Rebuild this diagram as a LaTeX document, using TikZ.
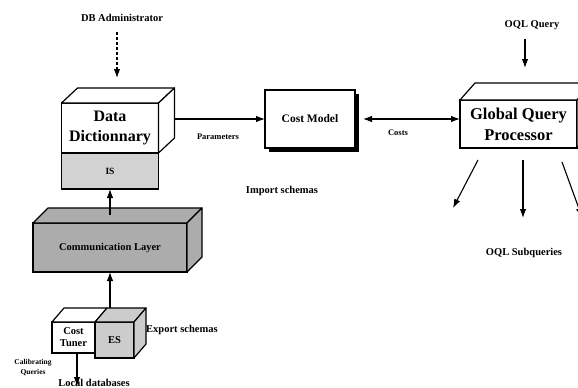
\documentclass[tikz,border=0pt]{standalone}
\usepackage{fontspec}
\setmainfont{Liberation Serif}
\usetikzlibrary{arrows.meta,shadows,positioning}

\begin{document}
\begin{tikzpicture}[
    % GLOBAL CFG
    x=1pt, y=-1pt,
    font=\bfseries,
    >={Latex[length=9pt,width=6.5pt]},
    % Styles
    face/.style={% front face of a block
        rectangle,
        draw,
        line width=1.2pt,
        fill=white,
        inner sep=1pt,
        outer sep=0pt,
        align=center,
        },
    side/.style={% top and right faces of a block
        draw,
        line width=1.2pt,
        line join=round,
        },
    conn/.style={% connectors
        ->,
        line width=1.1pt,
        },
    lbl/.style={% free labels
        font=\bfseries\fontsize{10.5}{12}\selectfont,
        inner sep=0pt,
        },
    small/.style={% tiny labels
        font=\bfseries\fontsize{8.5}{10}\selectfont,
        inner sep=0pt,
        align=center,
        },
    ]

    \useasboundingbox (0,0) rectangle (578,388);
    \clip (0,0) rectangle (578,388);

    % Data dictionary block and IS
    \node [face, minimum width=97pt, minimum height=50pt,
        font=\bfseries\fontsize{16}{20}\selectfont] (dd) at (110,128) {Data\\Dictionnary};
    \node [face, fill=gray!35, minimum width=97pt, minimum height=36pt, anchor=north,
        font=\bfseries\fontsize{9.5}{10}\selectfont] (is) at (dd.south) {IS};
    \draw [side, fill=white] (dd.north west) -- ++(16,-15) -- ++(97,0) -- (dd.north east) -- cycle;
    \draw [side, fill=white] (dd.north east) -- ++(16,-15) -- ++(0,50) -- (dd.south east) -- cycle;

    % Communication layer
    \node [face, fill=gray!65, minimum width=154pt, minimum height=49pt,
        font=\bfseries\fontsize{10.5}{12}\selectfont] (comm) at (110,247.5) {Communication Layer};
    \draw [side, fill=gray!65] (comm.north west) -- ++(15,-15) -- ++(154,0) -- (comm.north east) -- cycle;
    \draw [side, fill=gray!65] (comm.north east) -- ++(15,-15) -- ++(0,49) -- (comm.south east) -- cycle;

    % Cost tuner and ES
    \node [face, minimum width=43pt, minimum height=31pt,
        font=\bfseries\fontsize{10.5}{12}\selectfont] (ct) at (73.5,337.5) {Cost\\Tuner};
    \node [face, fill=gray!40, minimum width=39pt, minimum height=36pt, anchor=north west,
        font=\bfseries\fontsize{10.5}{12}\selectfont] (es) at (ct.north east) {ES};
    \draw [side, fill=white] (ct.north west) -- ++(12,-14) -- ++(43,0) -- (ct.north east) -- cycle;
    \draw [side, fill=gray!40] (es.north west) -- ++(12,-14) -- ++(39,0) -- (es.north east) -- cycle;
    \draw [side, fill=gray!40] (es.north east) -- ++(12,-14) -- ++(0,36) -- (es.south east) -- cycle;

    % Cost model
    \node [face, minimum width=90pt, minimum height=58pt,
        drop shadow={shadow xshift=4pt, shadow yshift=-4pt, fill=black, opacity=1},
        font=\bfseries\fontsize{11.5}{13}\selectfont] (cm) at (310,119) {Cost Model};

    % Global query processor
    \node [face, minimum width=117pt, minimum height=48pt,
        font=\bfseries\fontsize{16.5}{21}\selectfont] (gqp) at (518.5,124) {Global Query\\Processor};
    \draw [side, fill=white] (gqp.north west) -- ++(15,-17) -- ++(117,0) -- (gqp.north east) -- cycle;
    \draw [side, fill=white] (gqp.north east) -- ++(15,-17) -- ++(0,48) -- (gqp.south east) -- cycle;

    % Labels
    \node [lbl] (dba) at (122,18) {DB Administrator};
    \node [lbl] (oql) at (532,25) {OQL Query};
    \node [lbl] (sub) at (524,253) {OQL Subqueries};
    \node [lbl] (imp) at (282,191) {Import schemas};
    \node [lbl, anchor=west] (exp) at (146,330) {Export schemas};
    \node [lbl] (ldb) at (94,383) {Local databases};
    \node [small, font=\bfseries\fontsize{7.5}{10}\selectfont] (cal) at (33,368) {Calibrating\\Queries};
    \node [small] (par) at (218,137) {Parameters};
    \node [small] (costs) at (398,133) {Costs};
    \coordinate (ddin) at (117,78);
    \coordinate (qin) at (525,68);

    % Connectors
    \draw [conn, dash pattern=on 3pt off 2pt] (dba.south -| ddin) ++(0,10) -- (ddin);
    \draw [conn] (oql.south -| qin) ++(0,9) -- (qin);
    \draw [conn] (dd.east) ++(16,-9) -- (cm.west);
    \draw [conn, <->] (cm.east) ++(8,0) -- (cm.east -| gqp.west);
    \draw [conn] (comm.north) ++(0,-8) -- (is.south);
    \draw [conn] (es.north west) ++(15,-14) -- (comm.south);
    \draw [conn] (ct.south) ++(3.5,0) -- ++(0,33);

    % Subqueries
    \draw [conn] (gqp.south) ++(-40.5,12) -- ++(-25,48);
    \draw [conn] (gqp.south) ++(4.5,12) -- ++(0,58);
    \draw [conn] (gqp.south) ++(43.5,14) -- ++(20,55);

\end{tikzpicture}
\end{document}
